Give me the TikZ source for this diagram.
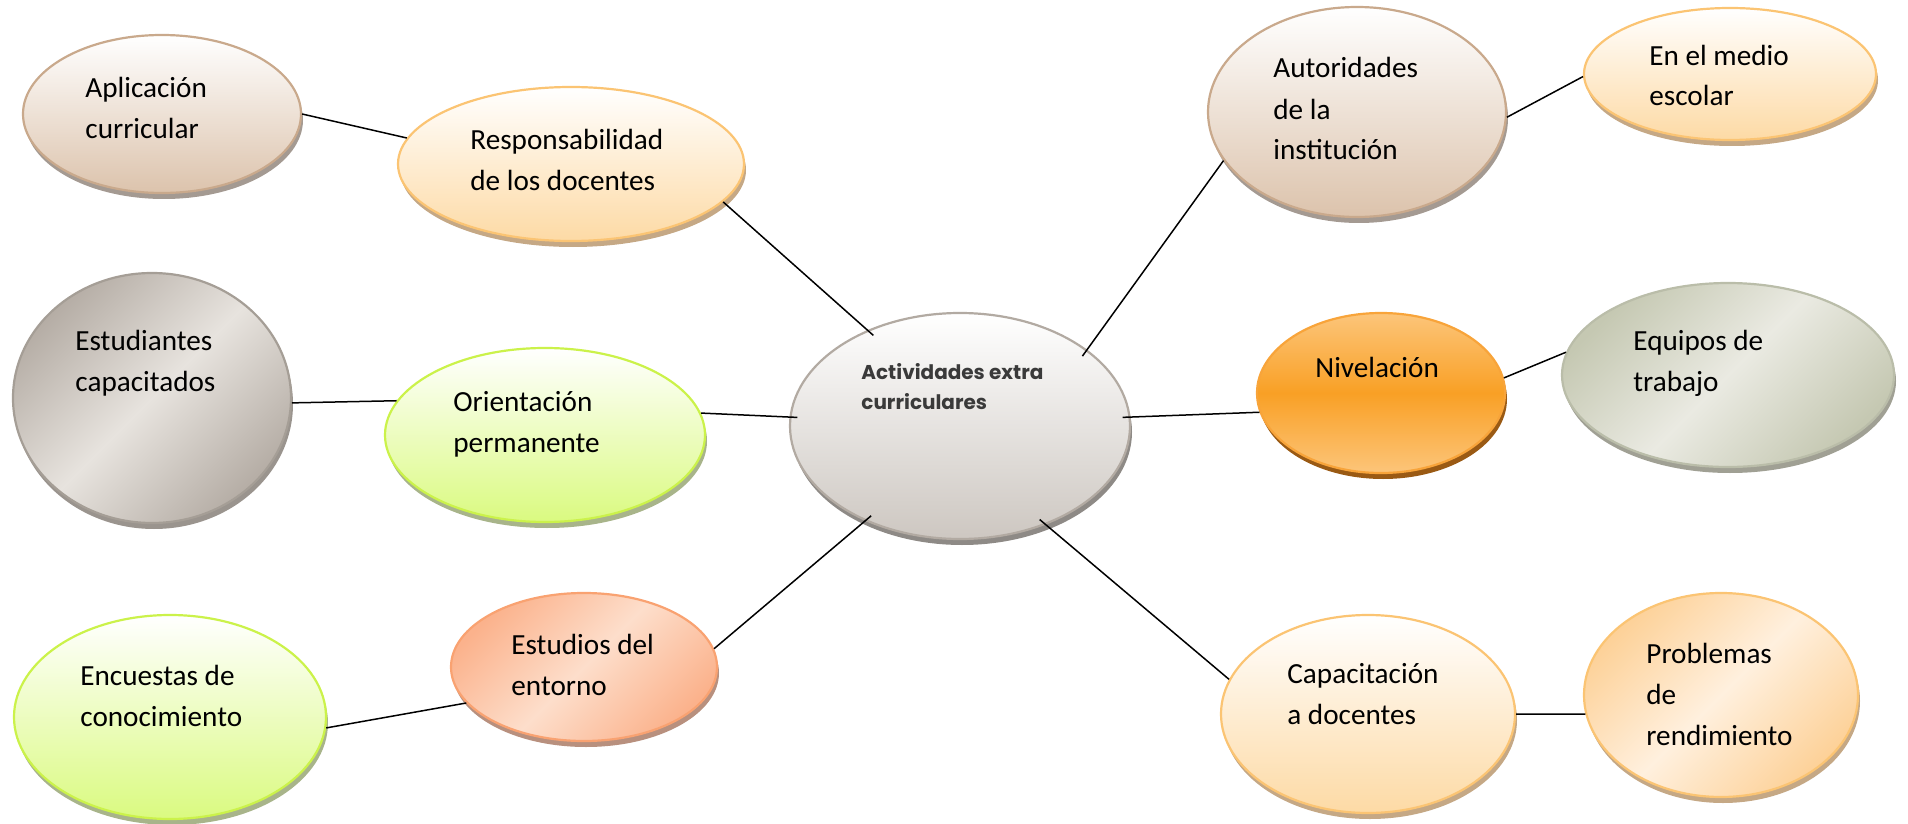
\documentclass[tikz,border=0pt]{standalone}
\usepackage{fontspec}
\setmainfont{Carlito}
\newfontfamily\gothicfont{Poppins}
\usetikzlibrary{shapes.geometric,shadows}
\definecolor{brBot}{HTML}{DCC3AC}
\definecolor{brBd}{HTML}{C9A98C}
\definecolor{brSh}{HTML}{A49A92}
\definecolor{pcBot}{HTML}{FDDAA5}
\definecolor{pcBd}{HTML}{FBC473}
\definecolor{pcSh}{HTML}{C5A885}
\definecolor{gyA}{HTML}{B5ADA5}
\definecolor{gyB}{HTML}{E7E3DE}
\definecolor{gyBd}{HTML}{A59E96}
\definecolor{gySh}{HTML}{9A948E}
\definecolor{lmBot}{HTML}{DAFA80}
\definecolor{lmBd}{HTML}{CBF24A}
\definecolor{lmSh}{HTML}{A8B48A}
\definecolor{smA}{HTML}{FBB28C}
\definecolor{smB}{HTML}{FDDECB}
\definecolor{smBd}{HTML}{F9A271}
\definecolor{smSh}{HTML}{B8907E}
\definecolor{ctBot}{HTML}{CDC7C1}
\definecolor{ctBd}{HTML}{B2AAA2}
\definecolor{ctSh}{HTML}{8E8A86}
\definecolor{orA}{HTML}{FCC57A}
\definecolor{orB}{HTML}{F9A025}
\definecolor{orBd}{HTML}{F8A43A}
\definecolor{orSh}{HTML}{9A5A14}
\definecolor{eqA}{HTML}{C5C8B2}
\definecolor{eqB}{HTML}{EAEAE2}
\definecolor{eqBd}{HTML}{BABDA9}
\definecolor{eqSh}{HTML}{A0A094}
\definecolor{prA}{HTML}{FDD198}
\definecolor{prB}{HTML}{FFF0DE}
\definecolor{ctText}{HTML}{3A3A3A}
\begin{document}
\begin{tikzpicture}[x=0.5pt,y=-0.5pt,
  bub/.style={ellipse, inner sep=0pt, line width=1.1pt},
  sz/.style 2 args={minimum width=#1*0.5pt, minimum height=#2*0.5pt},
  shad/.style={drop shadow={shadow xshift=1pt, shadow yshift=-3pt, fill=#1, opacity=1}},
  brown/.style={bub, shad=brSh, draw=brBd, top color=white, bottom color=brBot},
  peach/.style={bub, shad=pcSh, draw=pcBd, top color=white, bottom color=pcBot},
  lime/.style={bub, shad=lmSh, draw=lmBd, top color=white, bottom color=lmBot},
  txt/.style={anchor=base west, align=left, inner sep=0pt, font=\fontsize{14.6}{20.5}\selectfont},
  conn/.style={line width=0.75pt, black},
  intoend/.style={shorten >=-4pt},
  intostart/.style={shorten <=-4pt}]
\useasboundingbox (0,0) rectangle (1908,824);

% nodes
\node[brown, sz={278}{158}] (apl) at (162,114) {};
\node[peach, sz={346}{154}] (resp) at (571,164) {};
\node[bub, shad=gySh, draw=gyBd, left color=gyA, right color=gyA, middle color=gyB, shading angle=45, sz={278}{250}] (est) at (152,398) {};
\node[lime, sz={320}{174}] (ori) at (545,435) {};
\node[lime, sz={312}{204}] (enc) at (170,717) {};
\node[bub, shad=smSh, draw=smBd, left color=smA, right color=smA, middle color=smB, shading angle=45, sz={266}{148}] (estu) at (584,667) {};
\node[bub, shad=ctSh, draw=ctBd, top color=white, bottom color=ctBot, sz={340}{226}] (cen) at (960,426) {};
\node[brown, sz={298}{210}] (aut) at (1357,112) {};
\node[peach, sz={292}{132}] (med) at (1730,74) {};
\node[bub, shad=orSh, draw=orBd, top color=orA, bottom color=orA, middle color=orB, sz={248}{160}] (niv) at (1381,393) {};
\node[bub, shad=eqSh, draw=eqBd, left color=eqA, right color=eqA, middle color=eqB, shading angle=45, sz={332}{184}] (equ) at (1728,375) {};
\node[peach, sz={294}{198}] (cap) at (1368,714) {};
\node[bub, shad=pcSh, draw=pcBd, left color=prA, right color=prA, middle color=prB, shading angle=45, sz={274}{204}] (pro) at (1721,695) {};

% texts (anchored at the baseline of the last line)
\node[txt] (aplT) at (85,139) {Aplicación\\curricular};
\node[txt] (respT) at (470,191) {Responsabilidad\\de los docentes};
\node[txt] (estT) at (75,391) {Estudiantes\\capacitados};
\node[txt] (oriT) at (453,452) {Orientación\\permanente};
\node[txt] (encT) at (80,726) {Encuestas de\\conocimiento};
\node[txt] (estuT) at (511,695) {Estudios del\\entorno};
\node[txt, font=\gothicfont\bfseries\fontsize{10}{15}\selectfont, text=ctText] (cenT) at (861,409) {Actividades extra\\curriculares};
\node[txt] (autT) at (1273,160) {Autoridades\\de la\\institución};
\node[txt] (medT) at (1649,106) {En el medio\\escolar};
\node[txt] (nivT) at (1315,377) {Nivelación};
\node[txt] (equT) at (1633,391) {Equipos de\\trabajo};
\node[txt] (capT) at (1287,724) {Capacitación\\a docentes};
\node[txt] (proT) at (1646,745) {Problemas\\de\\rendimiento};

% connectors
\draw[conn] (apl.0) -- (resp.171);
\draw[conn, intoend] (resp.346) -- (cen.134);
\draw[conn] (est.358) -- (ori.167);
\draw[conn, intoend] (ori.8) -- (cen.177);
\draw[conn] (enc.356) -- (estu.197);
\draw[conn, intoend] (estu.8) -- (cen.225);
\draw[conn, intostart] (cen.31) -- (aut.200);
\draw[conn] (aut.358) -- (med.181);
\draw[conn, intostart] (cen.3) -- (niv.189);
\draw[conn] (niv.7) -- (equ.172);
\draw[conn, intostart] (cen.311) -- (cap.166);
\draw[conn] (cap.0) -- (pro.188);
\end{tikzpicture}
\end{document}
